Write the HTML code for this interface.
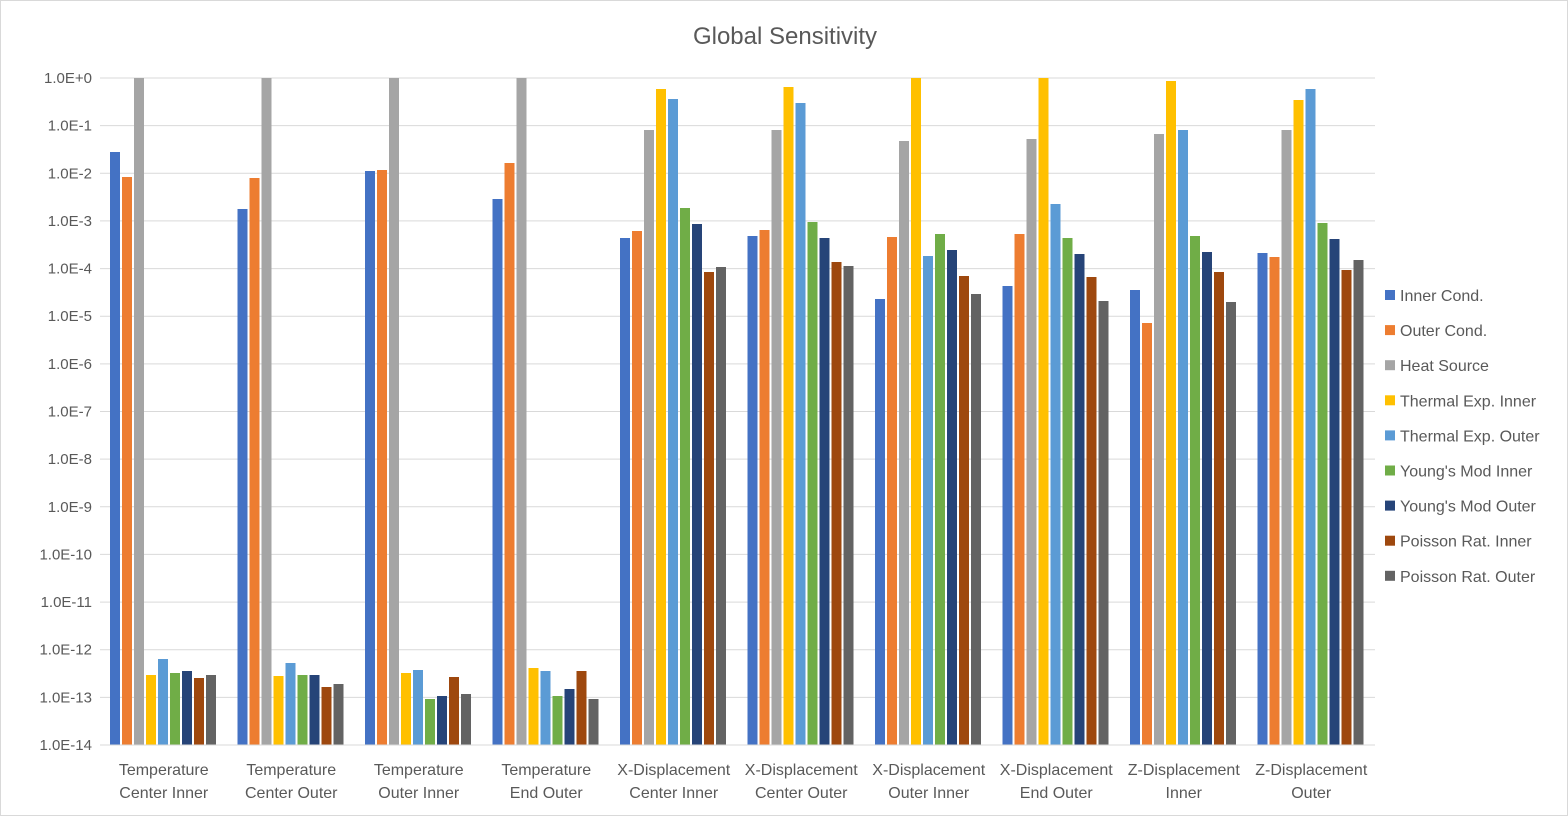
<!DOCTYPE html>
<html><head><meta charset="utf-8"><style>
html,body{margin:0;padding:0;background:#fff;}
svg{display:block;font-family:"Liberation Sans",sans-serif;}
</style></head><body>
<svg id="c" width="1568" height="816" viewBox="0 0 1568 816" xmlns="http://www.w3.org/2000/svg">
<rect x="0.5" y="0.5" width="1567" height="815" fill="#fff" stroke="#d9d9d9"/>
<text x="785" y="44" font-size="24" fill="#595959" text-anchor="middle">Global Sensitivity</text>
</svg>
<script>
var s=document.getElementById('c'),NS='http://www.w3.org/2000/svg';
function el(t,a,txt){var e=document.createElementNS(NS,t);for(var k in a)e.setAttribute(k,a[k]);if(txt!=null)e.textContent=txt;s.appendChild(e);return e;}
var y0=78,y1=745,d=(y1-y0)/14;
var labs=["1.0E+0","1.0E-1","1.0E-2","1.0E-3","1.0E-4","1.0E-5","1.0E-6","1.0E-7","1.0E-8","1.0E-9","1.0E-10","1.0E-11","1.0E-12","1.0E-13","1.0E-14"];
for(var i=0;i<15;i++){var y=y0+i*d;el('line',{x1:100,x2:1375,y1:y,y2:y,stroke:'#d9d9d9','stroke-width':1});
el('text',{x:92,y:y+5,'font-size':15,fill:'#595959','text-anchor':'end'},labs[i]);}
var cols=["#4472C4","#ED7D31","#A5A5A5","#FFC000","#5B9BD5","#70AD47","#264478","#9E480E","#636363"];
var tops=[[152,177,78,675,659,673,671,678,675],[209,178,78,676,663,675,675,687,684],[171,170,78,673,670,699,696,677,694],[199,163,78,668,671,696,689,671,699],[238,231,130,89,99,208,224,272,267],[236,230,130,87,103,222,238,262,266],[299,237,141,78,256,234,250,276,294],[286,234,139,78,204,238,254,277,301],[290,323,134,81,130,236,252,272,302],[253,257,130,100,89,223,239,270,260]];
var xl=[["Temperature","Center Inner"],["Temperature","Center Outer"],["Temperature","Outer Inner"],["Temperature","End Outer"],["X-Displacement","Center Inner"],["X-Displacement","Center Outer"],["X-Displacement","Outer Inner"],["X-Displacement","End Outer"],["Z-Displacement","Inner"],["Z-Displacement","Outer"]];
for(var c=0;c<10;c++){var st=100+c*127.5;
for(var j=0;j<9;j++){el('rect',{x:st+10+j*12,y:tops[c][j],width:10,height:y1-tops[c][j],fill:cols[j]});}
el('text',{x:st+63.75,y:775,'font-size':16,fill:'#595959','text-anchor':'middle'},xl[c][0]);
el('text',{x:st+63.75,y:798,'font-size':16,fill:'#595959','text-anchor':'middle'},xl[c][1]);}
el('line',{x1:100,x2:1375,y1:y1,y2:y1,stroke:'#d9d9d9'});
var ln=["Inner Cond.","Outer Cond.","Heat Source","Thermal Exp. Inner","Thermal Exp. Outer","Young's Mod Inner","Young's Mod Outer","Poisson Rat. Inner","Poisson Rat. Outer"];
for(var k=0;k<9;k++){var y=295+k*35.1;el('rect',{x:1385,y:y-5,width:10,height:10,fill:cols[k]});
el('text',{x:1400,y:y+6,'font-size':16,fill:'#595959'},ln[k]);}
</script>
</body></html>
